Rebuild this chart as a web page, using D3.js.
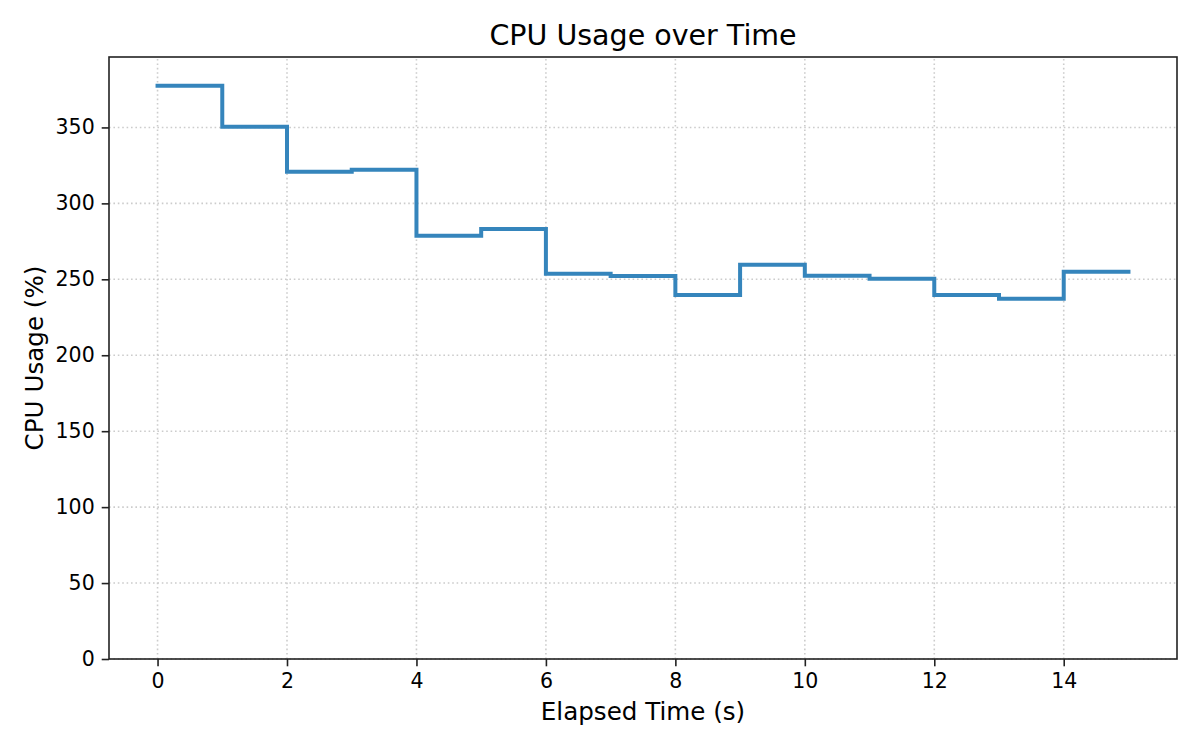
<!DOCTYPE html>
<html>
<head>
<meta charset="utf-8">
<script src="https://cdn.jsdelivr.net/npm/d3@7"></script>
<style>
	body { margin: 0; background: #fff; }
	text { font-family: "DejaVu Sans", sans-serif; fill: #000; }
</style>
</head>
<body>
<svg id="grafica" width="1200" height="750"></svg>
<script>
// seconds since start, one sample per second
var times = [0, 1, 2, 3, 4, 5, 6, 7, 8, 9, 10, 11, 12, 13, 14, 15]
var cpuUsage = [377.5, 350.5, 320.9, 322.2, 278.7, 283.2, 253.7, 252.2, 239.6, 259.6, 252.4, 250.4, 239.6, 237.2, 255.0, 255.0]
var xTicks = [0, 2, 4, 6, 8, 10, 12, 14]
var yTicks = [0, 50, 100, 150, 200, 250, 300, 350]

var data = times.map((t, i) => ({t: t, v: cpuUsage[i]}))

var svg = d3.select("#grafica"),
	margin = {top: 57, bottom: 91, left: 109, right: 23},
	width = +svg.attr("width"),
	height = +svg.attr("height")

var x = d3.scaleLinear()
	.domain([-0.75, 15.75])
	.range([margin.left, width - margin.right])

var y = d3.scaleLinear()
	.domain([0, d3.max(cpuUsage) * 1.05])
	.range([height - margin.bottom, margin.top])

// grid
var grid = svg.append("g")
	.attr("stroke", "#cccccc")
	.attr("stroke-width", 1.6)
	.attr("stroke-dasharray", "1.6,2.8")

grid.selectAll(".gx")
	.data(xTicks)
.enter().append("line")
	.attr("x1", d => x(d)).attr("x2", d => x(d))
	.attr("y1", y.range()[0]).attr("y2", y.range()[1])

grid.selectAll(".gy")
	.data(yTicks)
.enter().append("line")
	.attr("x1", x.range()[0]).attr("x2", x.range()[1])
	.attr("y1", d => y(d)).attr("y2", d => y(d))

// step line
var line = d3.line()
	.x(d => x(d.t))
	.y(d => y(d.v))
	.curve(d3.curveStepAfter)

svg.append("path")
	.datum(data)
	.attr("fill", "none")
	.attr("stroke", "#3585bc")
	.attr("stroke-width", 4)
	.attr("stroke-linecap", "square")
	.attr("d", line)

// axes
var xAxis = svg.append("g")
	.attr("transform", `translate(0,${y.range()[0]})`)
	.call(d3.axisBottom(x).tickValues(xTicks).tickSize(7.3).tickPadding(7))

var yAxis = svg.append("g")
	.attr("transform", `translate(${x.range()[0]},0)`)
	.call(d3.axisLeft(y).tickValues(yTicks).tickSize(7.3).tickPadding(7))

svg.selectAll(".domain").remove()
svg.selectAll(".tick line").attr("stroke", "#222").attr("stroke-width", 1.6)
svg.selectAll(".tick text")
	.style("font-family", "DejaVu Sans")
	.style("font-size", "20.5px")
	.attr("fill", "#000")

svg.append("rect")
	.attr("x", x.range()[0])
	.attr("y", y.range()[1])
	.attr("width", x.range()[1] - x.range()[0])
	.attr("height", y.range()[0] - y.range()[1])
	.attr("fill", "none")
	.attr("stroke", "#222")
	.attr("stroke-width", 1.6)

// labels
svg.append("text")
	.attr("x", (x.range()[0] + x.range()[1]) / 2)
	.attr("y", 45)
	.attr("text-anchor", "middle")
	.style("font-size", "28.5px")
	.text("CPU Usage over Time")

svg.append("text")
	.attr("x", (x.range()[0] + x.range()[1]) / 2)
	.attr("y", 720)
	.attr("text-anchor", "middle")
	.style("font-size", "24.6px")
	.text("Elapsed Time (s)")

svg.append("text")
	.attr("transform", `translate(43,${(y.range()[0] + y.range()[1]) / 2}) rotate(-90)`)
	.attr("text-anchor", "middle")
	.style("font-size", "24.6px")
	.text("CPU Usage (%)")
</script>
</body>
</html>
